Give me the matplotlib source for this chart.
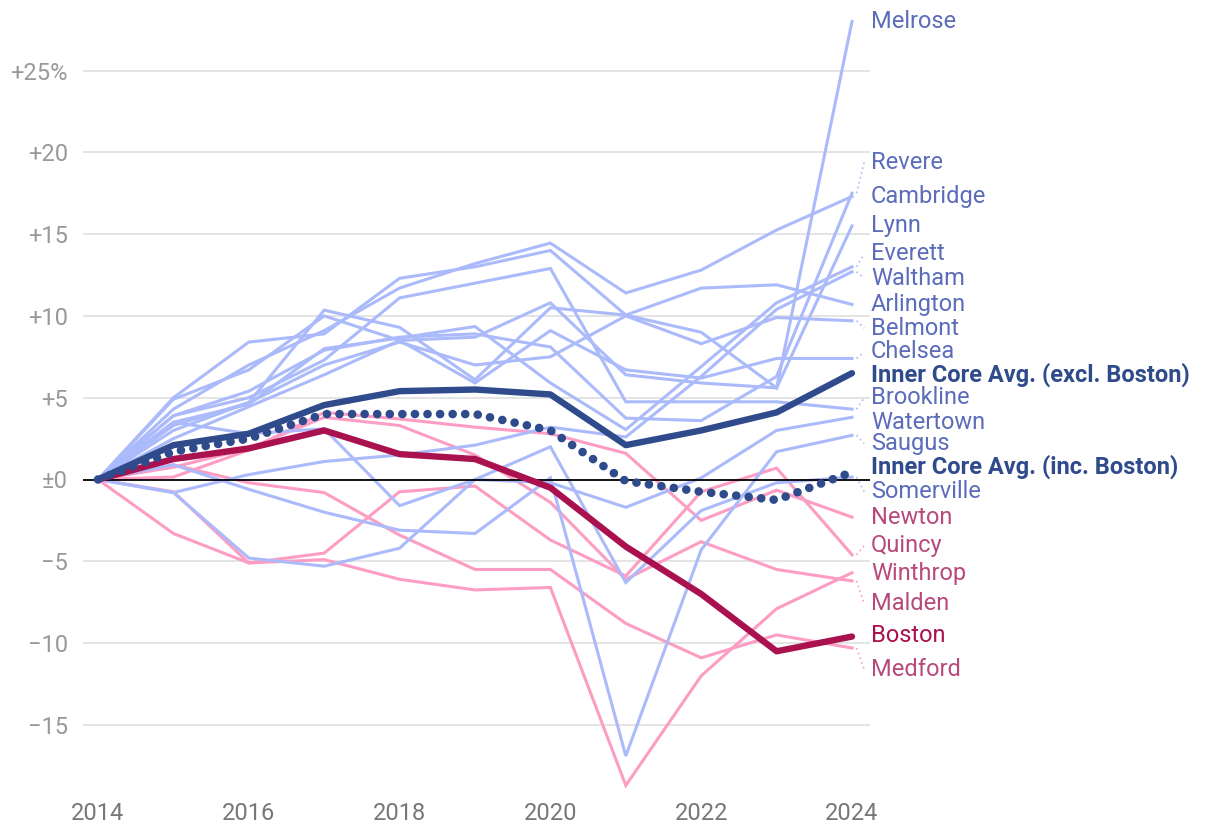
import matplotlib
matplotlib.use('Agg')
import matplotlib.pyplot as plt

plt.rcParams['font.family'] = ['Roboto', 'DejaVu Sans']

years = list(range(2014, 2025))

# light blue cities (% change since 2014)
melrose    = [0, 5.0, 8.4, 8.9, 12.3, 13.0, 14.0, 10.05, 9.0, 5.6, 28.0]
revere     = [0, 3.9, 5.4, 7.9, 8.7, 8.9, 8.1, 3.75, 3.6, 6.3, 17.5]
cambridge  = [0, 4.3, 7.0, 9.1, 11.7, 13.2, 14.45, 11.4, 12.8, 15.25, 17.3]
lynn       = [0, 4.9, 6.7, 10.0, 8.5, 8.7, 10.8, 6.4, 5.9, 5.6, 15.5]
everett    = [0, 3.5, 4.6, 8.0, 8.65, 9.35, 5.9, 3.05, 6.9, 10.8, 13.0]
waltham    = [0, -0.8, 0.3, 1.1, 1.5, 2.1, 3.2, 2.6, 6.3, 10.4, 12.7]
arlington  = [0, 3.3, 4.7, 10.35, 9.3, 6.1, 10.5, 10.05, 11.7, 11.9, 10.7]
belmont    = [0, 3.0, 4.7, 7.0, 8.4, 7.0, 7.5, 10.0, 8.3, 9.9, 9.7]
chelsea    = [0, 2.5, 4.45, 6.4, 8.5, 5.9, 9.1, 6.7, 6.2, 7.4, 7.4]
brookline  = [0, 3.9, 5.0, 7.3, 11.1, 12.0, 12.9, 4.75, 4.75, 4.75, 4.3]
watertown  = [0, 3.5, 2.8, 3.1, -1.6, 0.0, -0.2, -1.7, 0.1, 3.0, 3.8]
saugus     = [0, 0.9, -0.6, -2.0, -3.1, -3.3, 0.1, -16.9, -4.3, 1.7, 2.7]
somerville = [0, -0.8, -4.8, -5.3, -4.2, 0.0, 2.0, -6.3, -1.9, -0.2, 0.15]

# pink cities
newton   = [0, 0.15, 1.8, 4.1, 3.7, 3.2, 2.8, 1.6, -2.5, -0.65, -2.3]
quincy   = [0, -0.75, -5.1, -4.5, -0.75, -0.4, -3.7, -5.9, -0.75, 0.7, -4.6]
winthrop = [0, -3.3, -5.1, -4.9, -6.1, -6.75, -6.6, -18.7, -12.0, -7.9, -5.7]
malden   = [0, 0.75, 1.9, 3.8, 3.3, 1.5, -1.4, -6.1, -3.8, -5.5, -6.2]
medford  = [0, 0.9, -0.2, -0.8, -3.4, -5.5, -5.5, -8.8, -10.9, -9.5, -10.3]

boston     = [0, 1.25, 1.9, 3.0, 1.55, 1.25, -0.5, -4.1, -7.0, -10.5, -9.6]
core_excl  = [0, 2.1, 2.8, 4.55, 5.4, 5.5, 5.2, 2.1, 3.0, 4.1, 6.5]
core_inc   = [0, 1.7, 2.5, 4.0, 4.0, 4.0, 3.0, -0.1, -0.75, -1.25, 0.45]

blue_names = ['Melrose', 'Revere', 'Cambridge', 'Lynn', 'Everett', 'Waltham', 'Arlington',
              'Belmont', 'Chelsea', 'Brookline', 'Watertown', 'Saugus', 'Somerville']
blue_vals = [melrose, revere, cambridge, lynn, everett, waltham, arlington,
             belmont, chelsea, brookline, watertown, saugus, somerville]
pink_names = ['Newton', 'Quincy', 'Winthrop', 'Malden', 'Medford']
pink_vals = [newton, quincy, winthrop, malden, medford]

yticks = [-15, -10, -5, 0, 5, 10, 15, 20, 25]
ytick_labels = ['\u221215', '\u221210', '\u22125', '\u00b10', '+5', '+10', '+15', '+20', '+25%']
xticks = [2014, 2016, 2018, 2020, 2022, 2024]

# where the end labels sit (spread apart so they don't collide)
label_pos = {
    'Melrose': 28.0, 'Revere': 19.4, 'Cambridge': 17.3, 'Lynn': 15.5, 'Everett': 13.8,
    'Waltham': 12.3, 'Arlington': 10.7, 'Belmont': 9.25, 'Chelsea': 7.8,
    'Inner Core Avg. (excl. Boston)': 6.4, 'Brookline': 5.0, 'Watertown': 3.5,
    'Saugus': 2.2, 'Inner Core Avg. (inc. Boston)': 0.75, 'Somerville': -0.75,
    'Newton': -2.35, 'Quincy': -4.05, 'Winthrop': -5.75, 'Malden': -7.6,
    'Boston': -9.55, 'Medford': -11.6,
}

LIGHT_BLUE = '#abbafb'
PINK = '#fd9dc3'
DARK_BLUE = '#2f4b8c'
BOSTON = '#a9124f'
BLUE_TXT = '#5b6cbb'
PINK_TXT = '#b84a7b'

fig = plt.figure(figsize=(12.2, 8.36), dpi=100)
ax = fig.add_axes([83 / 1220, 41 / 836, 787 / 1220, 795 / 836])
ax.set_xlim(2014 - 15 / 75.4, 2024 + 18 / 75.4)
ax.set_ylim((479.5 - 795) / 16.36, 479.5 / 16.36)

for t in yticks:
    if t != 0:
        ax.axhline(t, color='#e2e2e2', lw=1.3, zorder=0)
ax.axhline(0, color='black', lw=1.3, zorder=3)

for vals in pink_vals:
    ax.plot(years, vals, color=PINK, lw=2.2, zorder=1, solid_joinstyle='miter')
for vals in blue_vals:
    ax.plot(years, vals, color=LIGHT_BLUE, lw=2.2, zorder=2, solid_joinstyle='miter')

ax.plot(years, boston, color=BOSTON, lw=4.6, zorder=4, solid_capstyle='round')
ax.plot(years, core_excl, color=DARK_BLUE, lw=4.6, zorder=5, solid_capstyle='round')
ax.plot(years, core_inc, color=DARK_BLUE, lw=6.2, zorder=5,
        linestyle=(0, (0.01, 1.45)), dash_capstyle='round')

# end labels
x_end = years[-1]
x_lab = 2024 + 19 / 75.4
series = []
for n, v in zip(blue_names, blue_vals):
    series.append((n, v[-1], BLUE_TXT, 'normal', LIGHT_BLUE))
series.append(('Inner Core Avg. (excl. Boston)', core_excl[-1], DARK_BLUE, 'bold', DARK_BLUE))
series.append(('Inner Core Avg. (inc. Boston)', core_inc[-1], DARK_BLUE, 'bold', DARK_BLUE))
for n, v in zip(pink_names, pink_vals):
    series.append((n, v[-1], PINK_TXT, 'normal', PINK))
series.append(('Boston', boston[-1], BOSTON, 'normal', BOSTON))

for name, end, tcol, weight, lcol in series:
    ly = label_pos[name]
    ax.text(x_lab, ly, name, color=tcol, fontsize=17, fontweight=weight,
            va='center', ha='left', clip_on=False)
    if abs(ly - end) > 0.35:
        ax.plot([x_end + 0.06, x_lab - 0.09], [end, ly], color=lcol, lw=1.2,
                linestyle=(0, (1, 2)), clip_on=False, zorder=1)

ax.set_yticks(yticks)
ax.set_yticklabels(ytick_labels)
ax.set_xticks(xticks)
ax.set_xticklabels([str(x) for x in xticks])
ax.tick_params(axis='y', length=0, pad=11, labelsize=17, labelcolor='#999999')
ax.tick_params(axis='x', length=0, pad=5, labelsize=17, labelcolor='#777777')
for s in ax.spines.values():
    s.set_visible(False)

fig.savefig('out.png', dpi=100)
